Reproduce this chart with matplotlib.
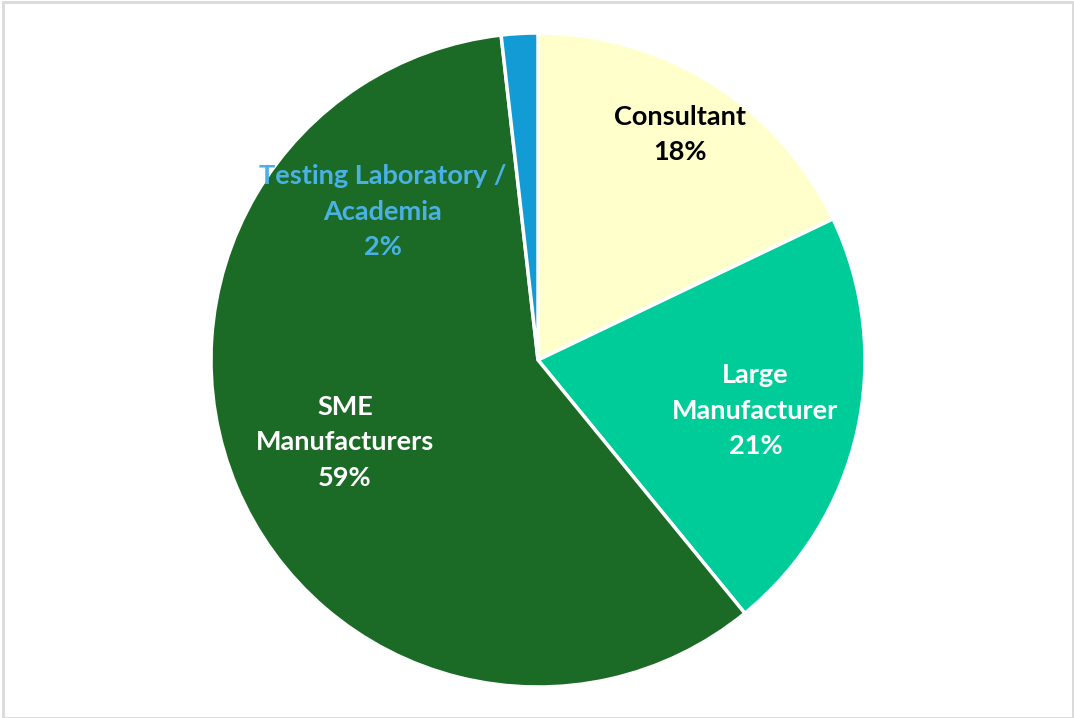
import matplotlib
matplotlib.use("Agg")
import matplotlib.pyplot as plt
from matplotlib.patches import Rectangle

# -- data --
categories = ["Consultant", "Large\nManufacturer", "SME\nManufacturers", "Testing Laboratory /\nAcademia"]
shares = [17.9, 21.2, 59.1, 1.8]
pct_labels = ["18%", "21%", "59%", "2%"]
colors = ["#FFFFCC", "#00CC99", "#1B6B26", "#129BD5"]
text_colors = ["#000000", "#FFFFFF", "#FFFFFF", "#4BB1E4"]
# label anchors (x, y) in pie-radius units
label_pos = [(0.435, 0.69), (0.665, -0.155), (-0.59, -0.252), (-0.475, 0.453)]

W, H = 1074, 718
fig = plt.figure(figsize=(W / 100, H / 100), dpi=100)
fig.patches.append(Rectangle((3 / W, 0), (1070 / W), 716 / H, transform=fig.transFigure,
                             fill=False, edgecolor="#D9D9D9", linewidth=2))

cx, cy, r = 538, 360, 327
ax = fig.add_axes([(cx - r) / W, (H - cy - r) / H, 2 * r / W, 2 * r / H])
ax.pie(shares, colors=colors, startangle=90, counterclock=False, radius=1,
       wedgeprops=dict(edgecolor="white", linewidth=2.5))
ax.set_xlim(-1, 1)
ax.set_ylim(-1, 1)
ax.set_aspect("equal")
ax.axis("off")

for cat, pct, (x, y), tc in zip(categories, pct_labels, label_pos, text_colors):
    ax.text(x, y, f"{cat}\n{pct}", ha="center", va="center", color=tc,
            fontsize=19.5, fontweight="bold", family="Lato", linespacing=1.58)

fig.savefig("out.png", dpi=100)
